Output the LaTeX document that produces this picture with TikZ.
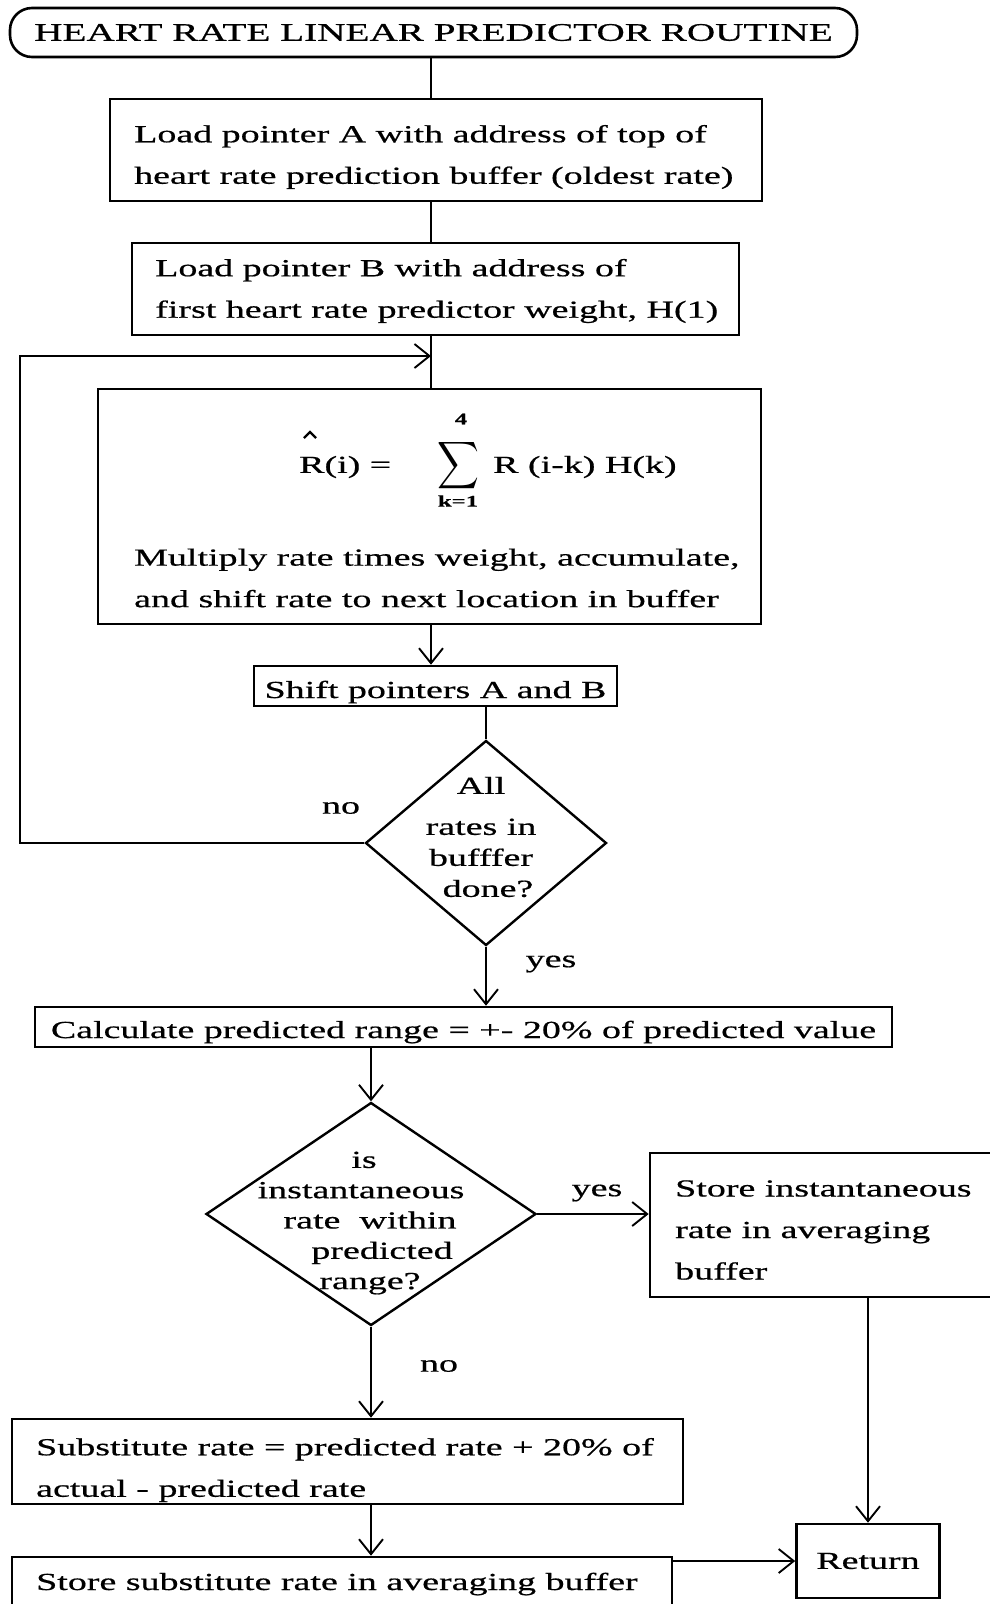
\documentclass[tikz,border=0pt]{standalone}
\usepackage{fontspec}
\setmainfont{Liberation Serif}[FakeStretch=1.55,FakeBold=0.6]
\usetikzlibrary{shapes.geometric,arrows.meta}
\tikzset{
  box/.style={draw, line width=2.6pt, rectangle, inner sep=0pt},
  txt/.style={inner sep=0pt, align=left, anchor=west, font=\fontsize{24.5}{41.5}\selectfont},
  decision/.style={draw, diamond, line width=2.4pt, inner sep=0pt},
  conn/.style={line width=1.9pt},
  arr/.style={conn, -{Straight Barb[length=15pt,width=24pt,line width=1.9pt]}},
  lbl/.style={inner sep=0pt, font=\fontsize{24.5}{30}\selectfont},
  small/.style={inner sep=0pt, font=\fontsize{16}{16}\selectfont\bfseries},
}
\begin{document}
\begin{tikzpicture}[x=1pt,y=-1pt]
\useasboundingbox (0,0) rectangle (990,1604);
\clip (0,0) rectangle (990,1604);
\fill[white] (0,0) rectangle (990,1604);

\coordinate (spine) at (431,0);
\coordinate (lp) at (20,356);

% title
\node[box, rounded corners=22pt, minimum width=847pt, minimum height=49pt,
      font=\fontsize{25.3}{30}\selectfont] (title) at (433.5,32.5) {HEART RATE LINEAR PREDICTOR ROUTINE};

% box A
\node[box, minimum width=652pt, minimum height=102pt] (A) at (436,150) {};
\node[txt] (tA) at (134,157) {Load pointer A with address of top of\\heart rate prediction buffer (oldest rate)};

% box B
\node[box, minimum width=607pt, minimum height=92pt] (B) at (435.5,289) {};
\node[txt] (tB) at (155,291) {Load pointer B with address of\\first heart rate predictor weight, H(1)};

% box C
\node[box, minimum width=663pt, minimum height=235pt] (C) at (429.5,506.5) {};
\node[lbl, anchor=west] (Ri) at (299,467) {R(i) =};
\draw[line width=2.4pt] (304,438) -- (310,432) -- (316,438);
\node[inner sep=0pt] (sum) at (458,466) {\scalebox{2.9}[3.3]{$\displaystyle\sum$}};
\node[small] (up) at (461,419) {4};
\node[small] (lo) at (458,501) {k=1};
\node[lbl, anchor=west] (Rk) at (493,467) {R (i-k) H(k)};
\node[txt] (tC) at (134,578) {Multiply rate times weight, accumulate,\\and shift rate to next location in buffer};

% shift
\node[box, minimum width=363pt, minimum height=40pt, text height=30pt, text depth=6pt,
      font=\fontsize{24.5}{30}\selectfont] (shift) at (435.5,686) {Shift pointers A and B};

% decision 1
\node[decision, minimum width=241pt, minimum height=205pt] (d1) at (486,843) {};
\node[lbl, align=center, font=\fontsize{24.5}{31}\selectfont] (d1t) at (481,837) {All\\[10pt]rates in\\bufffer\\\hspace*{14pt}done?};

% calc
\node[box, minimum width=857pt, minimum height=40pt, text height=28pt, text depth=6pt,
      font=\fontsize{24.5}{30}\selectfont] (calc) at (463.5,1027) {Calculate predicted range = +- 20\% of predicted value};

% decision 2
\node[decision, minimum width=330pt, minimum height=223pt] (d2) at (371,1214) {};
\node[lbl, align=center, font=\fontsize{24.5}{30.3}\selectfont] (d2t) at (370,1223) {\hspace*{-12pt}is\\\hspace*{-18pt}instantaneous\\rate\ \ within\\\hspace*{24pt}predicted\\range?};

% store instantaneous
\node[box, minimum width=350pt, minimum height=144pt] (inst) at (825,1225) {};
\node[txt] (tI) at (675,1230) {Store instantaneous\\rate in averaging\\buffer};

% substitute
\node[box, minimum width=671pt, minimum height=85pt] (sub) at (347.5,1461.5) {};
\node[txt] (tS) at (36,1470) {Substitute rate = predicted rate + 20\% of\\actual - predicted rate};

% store substitute
\node[box, minimum width=660pt, minimum height=56pt] (ssub) at (342,1585) {};
\node[txt] (tSS) at (36,1584) {Store substitute rate in averaging buffer};

% return
\node[box, minimum width=143pt, minimum height=74pt, font=\fontsize{24.5}{30}\selectfont] (ret) at (868,1561) {Return};

% connectors
\draw[conn] (title.south -| spine) -- (A.north -| spine);
\draw[conn] (A.south -| spine) -- (B.north -| spine);
\draw[conn] (B.south -| spine) -- (C.north -| spine);
\draw[arr] (d1.west) -| (lp) -- (lp -| spine);
\draw[arr] (C.south -| spine) -- (shift.north -| spine);
\draw[conn] (shift.south -| d1.north) -- (d1.north);
\draw[arr] (d1.south) -- (calc.north -| d1.south);
\draw[arr] (calc.south -| d2.north) -- (d2.north);
\draw[arr] (d2.east) -- (d2.east -| inst.west);
\draw[arr] (d2.south) -- (sub.north -| d2.south);
\draw[arr] (sub.south -| d2.south) -- (ssub.north -| d2.south);
\draw[arr] (inst.south -| ret.north) -- (ret.north);
\draw[arr] (ret.west -| ssub.east) -- (ret.west);

% labels
\node[lbl] (no1) at (341,808) {no};
\node[lbl] (yes1) at (551,964) {yes};
\node[lbl] (yes2) at (597,1193) {yes};
\node[lbl] (no2) at (439,1366) {no};
\end{tikzpicture}
\end{document}
